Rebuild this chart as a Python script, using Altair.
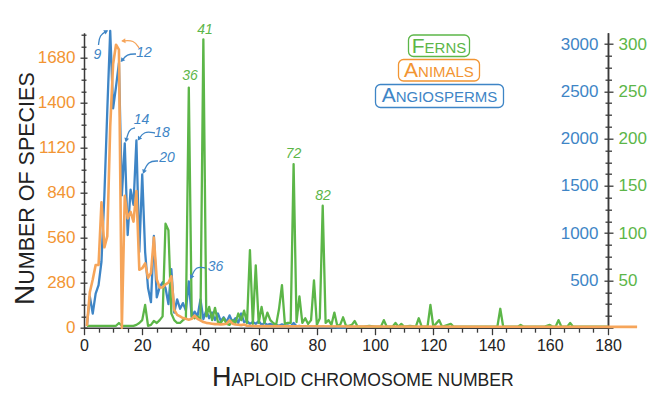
import math
import altair as alt
import pandas as pd

# ---------------- data ----------------
ang_n = list(range(1, 91))
ang_v = [20, 330, 150, 360, 450, 700, 1400, 2300, 3140, 2320,
         2550, 2800, 1400, 1950, 980, 1460, 1300, 1980, 800, 1620,
         800, 420, 270, 970, 320, 430, 480, 420, 250, 620,
         160, 300, 200, 260, 180, 490, 110, 170, 120, 300,
         90, 180, 100, 160, 80, 150, 70, 110, 60, 130,
         60, 100, 50, 150, 60, 70, 40, 60, 40, 70,
         30, 50, 30, 40, 25, 30, 20, 35, 20, 25,
         15, 50, 15, 20, 10, 15, 10, 12, 8, 15,
         5, 10, 5, 8, 3, 5, 2, 3, 1, 0]

ani_n = list(range(1, 59)) + [70, 100, 140, 190]
ani_v = [10, 220, 300, 390, 390, 780, 500, 570, 1250, 1640,
         1760, 1730, 0, 820, 680, 720, 660, 850, 360, 370,
         400, 310, 340, 560, 300, 250, 250, 270, 280, 320,
         110, 80, 70, 60, 55, 50, 55, 75, 55, 45,
         35, 30, 28, 25, 22, 22, 20, 22, 25, 45,
         25, 20, 18, 16, 20, 12, 12, 10,
         9, 7, 6, 5]

fern_n = list(range(1, 95)) + [96, 98, 100, 102, 103, 104, 106, 107, 108, 109,
                               110, 112, 114, 115, 116, 118, 119, 120, 122, 123,
                               126, 127, 130, 140, 142, 143, 144, 149, 150, 151,
                               158, 160, 161, 162, 163, 164, 166, 167, 168, 170, 180]
fern_v = [2, 2, 2, 2, 2, 2, 2, 2, 2, 2,
          2, 5, 2, 2, 2, 2, 2, 3, 5, 8,
          24, 2, 3, 7, 5, 8, 12, 110, 103, 15,
          8, 5, 5, 8, 10, 254, 12, 10, 12, 8,
          305, 12, 22, 8, 21, 6, 5, 10, 4, 3,
          8, 5, 15, 8, 18, 5, 82, 4, 66, 5,
          22, 5, 16, 8, 5, 3, 20, 45, 4, 5,
          5, 173, 6, 33, 5, 10, 4, 8, 50, 3,
          10, 129, 5, 8, 3, 16, 2, 3, 11, 2,
          2, 3, 7, 1] + [1, 2, 1, 1, 8, 1, 1, 5, 1, 4,
                         1, 2, 1, 10, 1, 1, 24, 1, 8, 1,
                         4, 1, 1, 1, 1, 20, 1, 1, 3, 1,
                         1, 3, 1, 1, 8, 1, 1, 5, 1, 1, 1]

# annotation texts
blue_lbl_t = ["9", "12", "14", "18", "20", "36"]
green_lbl_t = ["36", "41", "72", "82"]

# ---------------- styling / layout ----------------
BLUE = "#3E85C6"
GREEN = "#5CB648"
ORANGE = "#F6A55A"
ORANGE_T = "#F29533"
AXC = "#3a3a3a"
FONT = "Liberation Sans"
W, H = 524, 295
OX, OY = 84.0, 32.7   # page position of plot origin

def px(x):
    return x - OX

def py(y):
    return y - OY

CW = {"A": 667, "B": 667, "C": 722, "D": 722, "E": 667, "F": 611, "G": 778,
      "H": 722, "I": 278, "L": 556, "M": 833, "N": 722, "O": 778, "P": 667,
      "R": 722, "S": 667, "U": 722, " ": 278}

def tw(s, size):
    return sum(CW[c] for c in s) * size / 1000.0

xs = alt.Scale(domain=[0, 180], nice=False, zero=False)

def cond(test, a, b):
    return {"condition": {"test": test, "value": a}, "value": b}

x_axis = alt.Axis(values=list(range(0, 181, 5)), title=None, grid=False,
                  labelExpr="datum.value % 20 === 0 ? datum.label : ''",
                  tickSize=cond("datum.value % 20 === 0", 7, 4.5),
                  labelFlush=False, labelOverlap=False, labelBound=False,
                  labelFont=FONT, labelFontSize=16, labelColor="#222", labelPadding=3,
                  domainColor=AXC, domainWidth=1.5, tickColor=AXC, tickWidth=1.3)

o_axis = alt.Axis(orient="left", values=list(range(0, 1821, 70)), title=None, grid=False,
                  format="d", labelExpr="datum.value % 280 === 0 ? datum.label : ''",
                  tickSize=cond("datum.value % 280 === 0", 4, 3),
                  labelOverlap=False, labelBound=False, labelFlush=False,
                  labelFont=FONT, labelFontSize=17, labelColor=ORANGE_T, labelPadding=5,
                  domainColor=AXC, domainWidth=1.5, tickColor=AXC, tickWidth=1.3)
o_axis2 = alt.Axis(orient="right", offset=-W, values=list(range(0, 1821, 70)), title=None,
                   grid=False, labels=False, domain=False,
                   tickSize=cond("datum.value % 280 === 0", 3, 2),
                   tickColor=AXC, tickWidth=1.3)

b_axis = alt.Axis(orient="left", offset=-W, values=list(range(0, 3001, 125)), title=None,
                  grid=False, format="d",
                  labelExpr="datum.value % 500 === 0 && datum.value > 0 ? datum.label : ''",
                  tickSize=cond("datum.value % 500 === 0", 4, 3),
                  labelOverlap=False, labelBound=False, labelFlush=False,
                  labelFont=FONT, labelFontSize=17, labelColor=BLUE, labelPadding=6,
                  domainColor=AXC, domainWidth=1.5, tickColor=AXC, tickWidth=1.3)
g_axis = alt.Axis(orient="right", values=[i * 12.5 for i in range(0, 25)], title=None,
                  grid=False, format="d",
                  labelExpr="datum.value % 50 === 0 && datum.value > 0 ? datum.label : ''",
                  tickSize=cond("datum.value % 50 === 0", 5, 3.5),
                  labelOverlap=False, labelBound=False, labelFlush=False,
                  labelFont=FONT, labelFontSize=17, labelColor=GREEN, labelPadding=5,
                  domainColor=AXC, domainWidth=1.5, tickColor=AXC, tickWidth=1.3)

ang_df = pd.DataFrame({"n": ang_n, "v": ang_v})
ani_df = pd.DataFrame({"n": ani_n, "v": ani_v})
fern_df = pd.DataFrame({"n": fern_n, "v": fern_v})

blue = alt.Chart(ang_df).mark_line(color=BLUE, strokeWidth=2.3, strokeJoin="round").encode(
    x=alt.X("n:Q", scale=xs, axis=x_axis),
    y=alt.Y("v:Q", scale=alt.Scale(domain=[0, 3120], nice=False), axis=b_axis))
green = alt.Chart(fern_df).mark_line(color=GREEN, strokeWidth=2.3, strokeJoin="round").encode(
    x=alt.X("n:Q", scale=xs, axis=None),
    y=alt.Y("v:Q", scale=alt.Scale(domain=[0, 312], nice=False), axis=g_axis))
orange = alt.Chart(ani_df).mark_line(color=ORANGE, strokeWidth=2.6, strokeJoin="round").encode(
    x=alt.X("n:Q", scale=xs, axis=None),
    y=alt.Y("v:Q", scale=alt.Scale(domain=[0, 1835], nice=False), axis=o_axis))
orange_ticks = alt.Chart(ani_df).mark_line(opacity=0).encode(
    x=alt.X("n:Q", scale=xs, axis=None),
    y=alt.Y("v:Q", scale=alt.Scale(domain=[0, 1835], nice=False), axis=o_axis2))

def enc_xy(**kw):
    return dict(x=alt.X("x:Q", scale=None, axis=None), y=alt.Y("y:Q", scale=None, axis=None), **kw)

# number labels
blue_pos = [(97.5, 55), (144, 53.5), (141.5, 120), (162, 133), (167, 158.5), (215.5, 267.5)]
green_pos = [(190, 76), (205, 30), (293.5, 154.5), (323, 196)]
lbl_df = pd.DataFrame({
    "x": [px(a) for a, _ in blue_pos] + [px(a) for a, _ in green_pos],
    "y": [py(b) for _, b in blue_pos] + [py(b) for _, b in green_pos],
    "t": blue_lbl_t + green_lbl_t,
    "c": [BLUE] * len(blue_lbl_t) + [GREEN] * len(green_lbl_t)})
labels = alt.Chart(lbl_df).mark_text(font=FONT, fontSize=14, fontStyle="italic",
                                     align="center", baseline="middle").encode(
    text="t:N", color=alt.Color("c:N", scale=None), **enc_xy())

# arrows
arrows = [
    (BLUE, [(98.5, 45), (99.5, 35), (107, 31)]),
    (BLUE, [(136, 54), (127, 54), (121.5, 61)]),
    (ORANGE, [(139, 48), (134, 40), (122.5, 41)]),
    (BLUE, [(135, 128), (129, 129), (126, 141)]),
    (BLUE, [(155, 133), (144, 131), (138.5, 139.5)]),
    (BLUE, [(158, 161), (148, 161), (143.5, 172.5)]),
    (BLUE, [(205, 268), (196, 266), (191, 278)]),
]
rows, heads = [], []
for i, (c, pts) in enumerate(arrows):
    for k, (a, b) in enumerate(pts):
        rows.append({"id": i, "k": k, "x": px(a), "y": py(b), "c": c})
    (x1, y1), (x2, y2) = pts[1], pts[2]
    d = math.hypot(x2 - x1, y2 - y1)
    ux, uy = (x2 - x1) / d, (y2 - y1) / d
    ang = math.degrees(math.atan2(ux, -uy)) % 360
    heads.append({"x": px(x2 - 1.5 * ux), "y": py(y2 - 1.5 * uy), "a": ang, "c": c})
arr_df = pd.DataFrame(rows)
head_df = pd.DataFrame(heads)
arrow_lines = alt.Chart(arr_df).mark_line(interpolate="basis", strokeWidth=1.3).encode(
    detail="id:N", order="k:Q", color=alt.Color("c:N", scale=None), **enc_xy())
arrow_heads = alt.Chart(head_df).mark_point(shape="triangle", filled=True, size=24, opacity=1).encode(
    angle=alt.Angle("a:Q", scale=None), color=alt.Color("c:N", scale=None), **enc_xy())

# legend boxes
leg = [("F", "ERNS", GREEN, (408.5, 469.5, 35, 56.5), 53.5),
       ("A", "NIMALS", ORANGE_T, (398.5, 479.5, 59.5, 81), 77.5),
       ("A", "NGIOSPERMS", BLUE, (375.5, 503.5, 84.5, 107.5), 102.5)]
BIG, SMALL = 21, 15
box_rows, big_rows, small_rows = [], [], []
for first, rest, c, (x0, x1, y0, y1), base in leg:
    box_rows.append({"x": px(x0), "x2": px(x1), "y": py(y0), "y2": py(y1), "c": c})
    wtot = tw(first, BIG) + tw(rest, SMALL)
    sx = (x0 + x1) / 2 - wtot / 2
    big_rows.append({"x": px(sx), "y": py(base), "t": first, "c": c})
    small_rows.append({"x": px(sx + tw(first, BIG)), "y": py(base), "t": rest, "c": c})
box_df = pd.DataFrame(box_rows)
boxes = alt.Chart(box_df).mark_rect(fillOpacity=0, strokeWidth=1.3, cornerRadius=5).encode(
    x=alt.X("x:Q", scale=None, axis=None), x2="x2:Q",
    y=alt.Y("y:Q", scale=None, axis=None), y2="y2:Q",
    stroke=alt.Stroke("c:N", scale=None))
leg_big = alt.Chart(pd.DataFrame(big_rows)).mark_text(
    font=FONT, fontSize=BIG, align="left", baseline="alphabetic").encode(
    text="t:N", color=alt.Color("c:N", scale=None), **enc_xy())
leg_small = alt.Chart(pd.DataFrame(small_rows)).mark_text(
    font=FONT, fontSize=SMALL, align="left", baseline="alphabetic").encode(
    text="t:N", color=alt.Color("c:N", scale=None), **enc_xy())

# axis titles (small caps built from two sizes)
YB, YS = 28, 21.5
ytit_big = alt.Chart(pd.DataFrame({"t": ["N"]})).mark_text(
    font=FONT, fontSize=YB, angle=270, align="left", baseline="alphabetic", color="#222").encode(
    text="t:N", x=alt.value(px(34)), y=alt.value(py(305)))
ytit_small = alt.Chart(pd.DataFrame({"t": ["UMBER OF SPECIES"]})).mark_text(
    font=FONT, fontSize=YS, angle=270, align="left", baseline="alphabetic", color="#222").encode(
    text="t:N", x=alt.value(px(34)), y=alt.value(py(305 - tw("N", YB))))
XB, XS = 27, 17.6
xt0 = 212
XBASE = 386.5
xtit_big = alt.Chart(pd.DataFrame({"t": ["H"]})).mark_text(
    font=FONT, fontSize=XB, align="left", baseline="alphabetic", color="#222").encode(
    text="t:N", x=alt.value(px(xt0)), y=alt.value(py(XBASE)))
xtit_small = alt.Chart(pd.DataFrame({"t": ["APLOID CHROMOSOME NUMBER"]})).mark_text(
    font=FONT, fontSize=XS, align="left", baseline="alphabetic", color="#222").encode(
    text="t:N", x=alt.value(px(xt0 + tw("H", XB))), y=alt.value(py(XBASE)))

chart = alt.layer(
    blue, green, orange, orange_ticks,
    arrow_lines, arrow_heads, labels,
    boxes, leg_big, leg_small,
    ytit_big, ytit_small, xtit_big, xtit_small,
).resolve_scale(x="independent", y="independent").properties(
    width=W, height=H,
    autosize=alt.AutoSizeParams(type="none"),
    padding={"left": OX - 8, "top": OY - 8, "right": 45, "bottom": 68},
    background="white",
).configure_view(stroke=None)

chart.save("out.html", embed_options={"renderer": "svg", "actions": False})
